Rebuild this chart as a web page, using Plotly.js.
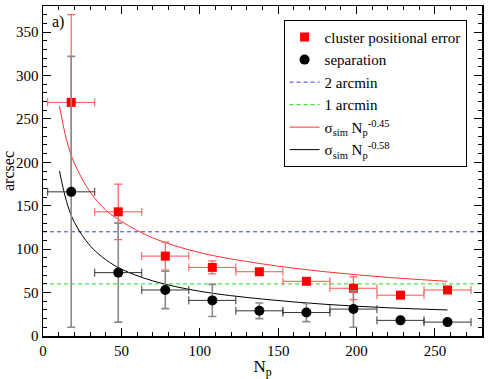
<!DOCTYPE html>
<html>
<head>
<meta charset="utf-8">
<script src="https://cdn.plot.ly/plotly-3.0.1.min.js"></script>
<style>
  html, body { margin: 0; padding: 0; background: #fff; }
  #chart { width: 491px; height: 379px; }
</style>
</head>
<body>
<div id="chart"></div>
<script>
// N_p bins (centres) and half-width of each bin
const npBins = [18, 48, 78, 108, 138, 168, 198, 228, 258];
const binHalf = [15, 15, 15, 15, 15, 15, 15, 15, 15];

// cluster positional error (arcsec) with its scatter
const posErr = [269, 143, 92, 79, 74, 63, 55, 47, 53];
const posErrSd = [101, 32, 16, 7.5, 0, 0, 13, 0, 0];

// separation (arcsec) with its scatter
const sep = [166, 73, 53, 41, 29, 27, 31, 18, 16];
const sepSd = [156, 57, 21.5, 18.5, 9, 10.5, 21, 0, 0];

// fitted curves
const fitN = [10.5, 15, 20, 30, 40, 50, 70, 100, 140, 180, 220, 258];
const fitRed = [265, 226, 199, 166, 145, 132, 113, 96, 83, 74, 67.5, 63];
const fitBlack = [190, 155, 131, 104, 88, 77, 63.5, 51.5, 42.5, 36.5, 32.5, 30];

// reference levels
const levelSpan = [0, 280];
const twoArcmin = [120, 120];
const oneArcmin = [60, 60];

const FONT = "'Liberation Serif', 'DejaVu Serif', serif";

const traces = [
  {
    x: levelSpan, y: twoArcmin, name: '2 arcmin', mode: 'lines', legendrank: 3,
    line: { color: '#3a3aff', width: 1, dash: '4px,3px' },
  },
  {
    x: levelSpan, y: oneArcmin, name: '1 arcmin', mode: 'lines', legendrank: 4,
    line: { color: '#22dd22', width: 1, dash: '4px,3px' },
  },
  {
    x: fitN, y: fitRed, name: 'σ<sub>sim</sub> N<sub>p</sub><sup>-0.45</sup>',
    mode: 'lines', legendrank: 5,
    line: { color: '#ff3030', width: 1, shape: 'spline' },
  },
  {
    x: fitN, y: fitBlack, name: 'σ<sub>sim</sub> N<sub>p</sub><sup>-0.58</sup>',
    mode: 'lines', legendrank: 6,
    line: { color: '#000', width: 1, shape: 'spline' },
  },
  {
    x: npBins, y: posErr, name: 'cluster positional error', mode: 'markers', legendrank: 1,
    marker: { symbol: 'square', color: '#ff0000', size: 9 },
    error_x: { type: 'data', array: binHalf, color: '#ff5050', thickness: 1, width: 4 },
    error_y: { type: 'data', array: posErrSd, color: '#ff6060', thickness: 1.2, width: 4 },
  },
  {
    x: npBins, y: sep, name: 'separation', mode: 'markers', legendrank: 2,
    marker: { symbol: 'circle', color: '#000', size: 10 },
    error_x: { type: 'data', array: binHalf, color: '#333', thickness: 1, width: 4 },
    error_y: { type: 'data', array: sepSd, color: '#8a8a8a', thickness: 1.6, width: 4 },
  },
];

const axisCommon = {
  showline: true, linecolor: '#000', linewidth: 1.5, mirror: 'allticks',
  ticks: 'inside', ticklen: 8, tickwidth: 1, tickcolor: '#000',
  showgrid: false, zeroline: false,
  tickfont: { family: FONT, size: 15, color: '#000' },
};

const layout = {
  width: 491, height: 379,
  paper_bgcolor: '#fff', plot_bgcolor: '#fff',
  margin: { l: 43, r: 9, t: 5.5, b: 42.5, autoexpand: false },
  font: { family: FONT, color: '#000' },
  showlegend: true,
  xaxis: Object.assign({}, axisCommon, {
    range: [0, 280], dtick: 50, tick0: 0,
    minor: { dtick: 10, ticks: 'inside', ticklen: 4, tickcolor: '#000' },
    title: { text: 'N<sub>p</sub>', font: { family: FONT, size: 17 }, standoff: 0 },
  }),
  yaxis: Object.assign({}, axisCommon, {
    range: [0, 380], dtick: 50, tick0: 0,
    minor: { dtick: 10, ticks: 'inside', ticklen: 4, tickcolor: '#000' },
    title: { text: 'arcsec', font: { family: FONT, size: 16 }, standoff: 6 },
  }),
  legend: {
    x: 0.548, y: 0.958, xanchor: 'left', yanchor: 'top',
    bgcolor: '#fff', bordercolor: '#000', borderwidth: 1,
    font: { family: FONT, size: 15, color: '#000' },
    tracegroupgap: 0, itemwidth: 30,
  },
  annotations: [{
    text: 'a)', xref: 'paper', yref: 'paper', x: 0.016, y: 0.951,
    xanchor: 'left', yanchor: 'middle', showarrow: false,
    font: { family: FONT, size: 16, color: '#000' },
  }],
};

Plotly.newPlot('chart', traces, layout, { displayModeBar: false, staticPlot: true });
</script>
</body>
</html>
